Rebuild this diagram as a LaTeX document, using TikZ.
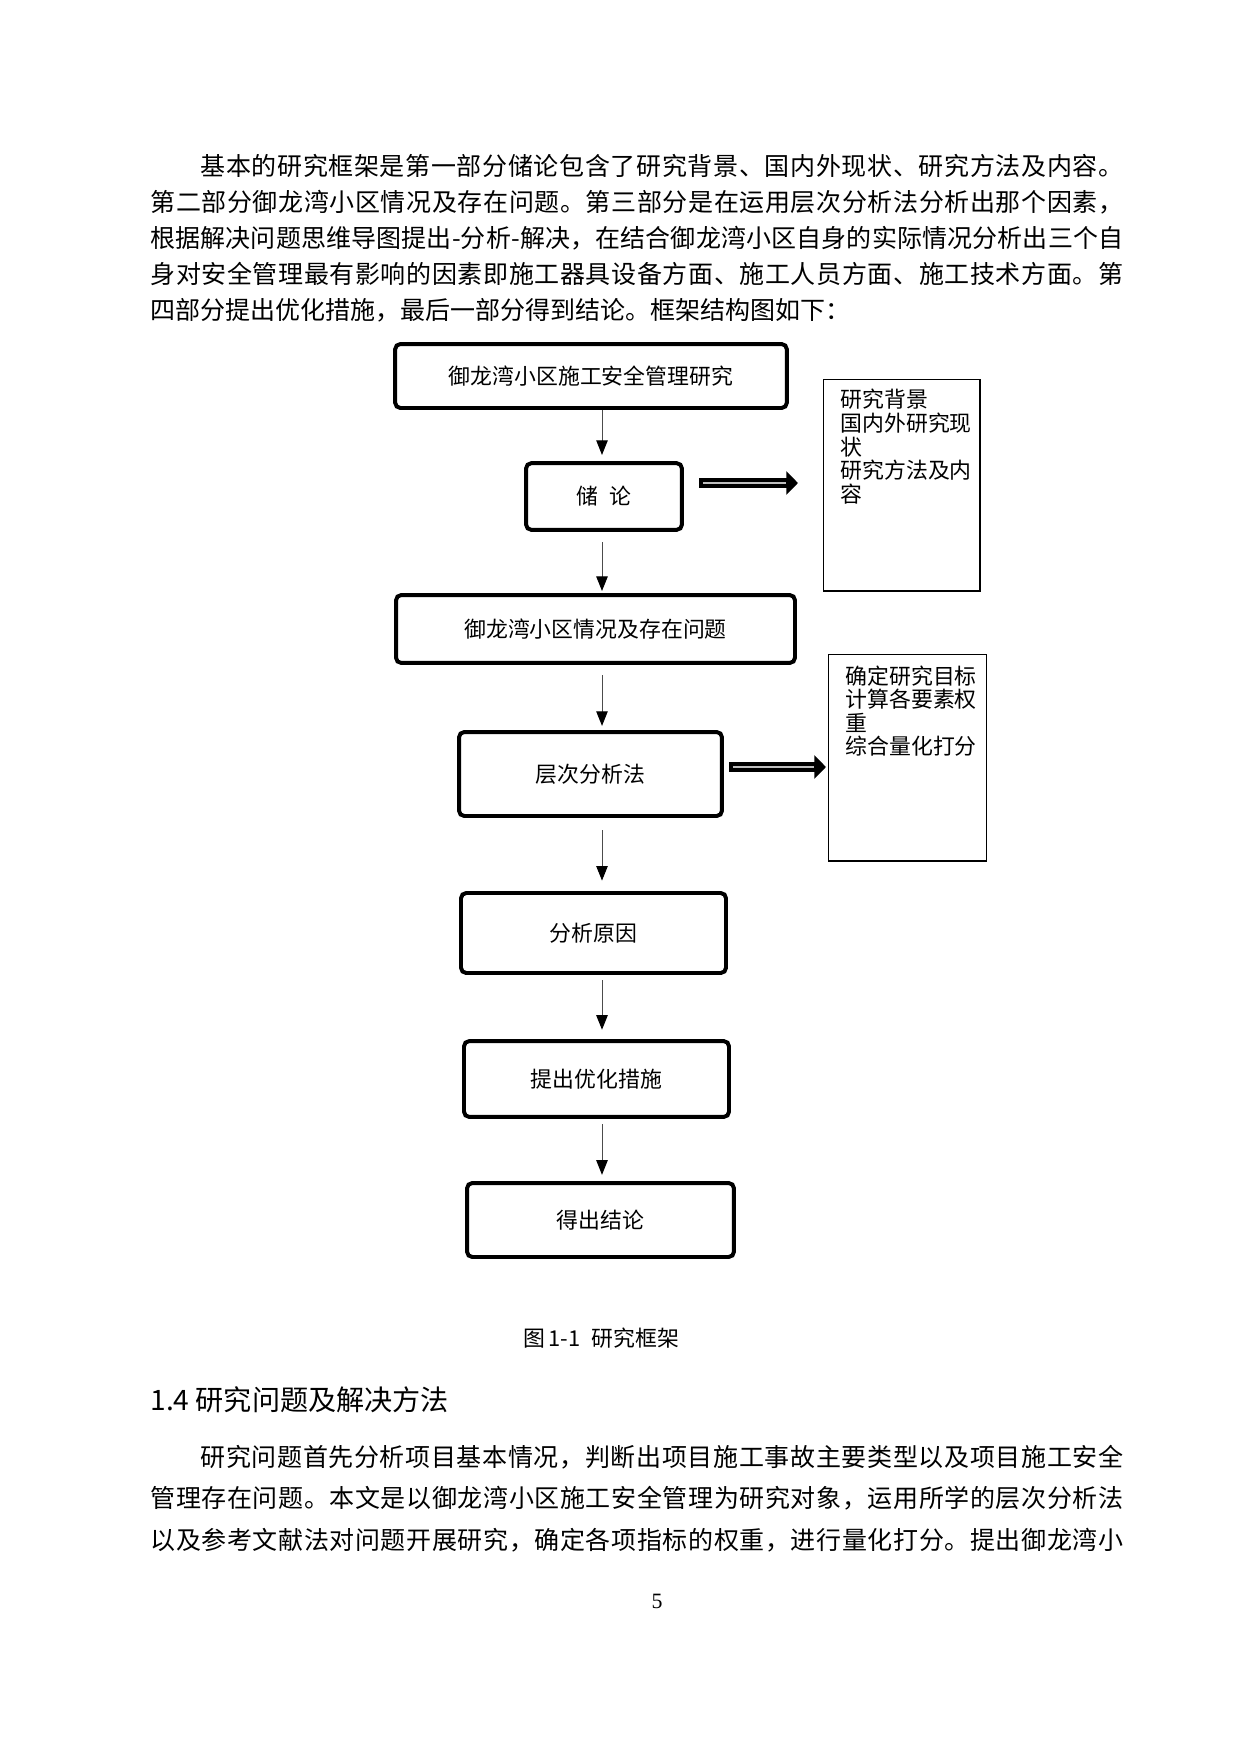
\documentclass[tikz,border=0pt]{standalone}
\usepackage{fontspec}
\usetikzlibrary{arrows.meta}

\newfontfamily\cjk{Noto Sans CJK SC}
\newfontfamily\pagefont{Liberation Serif}

% classes for stretchable space between CJK characters
\newcount\cjkcode
\cjkcode="4E00
\loop
  \XeTeXcharclass\cjkcode=1
  \advance\cjkcode by 1
\ifnum\cjkcode<"A000 \repeat
\XeTeXcharclass"3001=3
\XeTeXcharclass"3002=3
\XeTeXcharclass"FF0C=3
\XeTeXcharclass"FF1A=3

\XeTeXinterchartokenstate=1
\newcommand\cjkfill{\hskip0pt plus 1pt\relax}
\XeTeXinterchartoks 1 1 = {\cjkfill}
\XeTeXinterchartoks 1 3 = {\cjkfill}
\XeTeXinterchartoks 3 1 = {\cjkfill}
\XeTeXinterchartoks 3 3 = {\cjkfill}
\XeTeXinterchartoks 0 1 = {\cjkfill}
\XeTeXinterchartoks 1 0 = {\cjkfill}

\tikzset{
  stagebox/.style={draw, line width=1.9pt, rounded corners=2.5pt, inner sep=0pt,
    font=\cjk\fontsize{10.5pt}{12pt}\selectfont},
  notebox/.style={draw, line width=0.7pt, anchor=north west, inner sep=0pt},
  notetext/.style={anchor=north west, inner sep=0pt, align=left,
    font=\cjk\fontsize{10.5pt}{11.3pt}\selectfont},
  flowarrow/.style={black!70, line width=0.45pt, -{Triangle[length=7pt,width=5.5pt,color=black]}},
  outshaft/.style={line width=4.6pt, -{Triangle[length=5.6pt,width=11pt]}},
  inshaft/.style={gray!50, line width=0.55pt, shorten <=1.8pt, shorten >=6pt},
  bodyline/.style={anchor=west, inner sep=0pt, font=\cjk\fontsize{12pt}{14pt}\selectfont},
}

\begin{document}
\begin{tikzpicture}[x=0.48pt,y=-0.48pt]

            \fill[white] (0,0) rectangle (1240,1754);

            \node[bodyline] (pa1) at (200,166) {\makebox[443pt][s]{基本的研究框架是第一部分储论包含了研究背景、国内外现状、研究方法及内容。}};
            \node[bodyline] (pa2) at (150,202) {\makebox[467pt][s]{第二部分御龙湾小区情况及存在问题。第三部分是在运用层次分析法分析出那个因素，}};
            \node[bodyline] (pa3) at (150,238) {\makebox[467pt][s]{根据解决问题思维导图提出-分析-解决，在结合御龙湾小区自身的实际情况分析出三个自}};
            \node[bodyline] (pa4) at (150,274) {\makebox[467pt][s]{身对安全管理最有影响的因素即施工器具设备方面、施工人员方面、施工技术方面。第}};
            \node[bodyline] (pa5) at (150,310) {四部分提出优化措施，最后一部分得到结论。框架结构图如下：};

            \node[stagebox, minimum width=188pt, minimum height=30.7pt] (topic) at (591,376) {御龙湾小区施工安全管理研究};
            \node[stagebox, minimum width=74.8pt, minimum height=32pt] (intro) at (604,496.5) {储\enspace 论};
            \node[stagebox, minimum width=191.5pt, minimum height=32.6pt] (status) at (595.5,629) {御龙湾小区情况及存在问题};
            \node[stagebox, minimum width=126.2pt, minimum height=40.3pt] (ahp) at (590.5,774) {层次分析法};
            \node[stagebox, minimum width=127.2pt, minimum height=38.4pt] (cause) at (593.5,933) {分析原因};
            \node[stagebox, minimum width=127.2pt, minimum height=36.4pt] (measure) at (596.5,1079) {提出优化措施};
            \node[stagebox, minimum width=128.1pt, minimum height=35.5pt] (result) at (600.5,1220) {得出结论};

            \node[notebox, minimum width=74.9pt, minimum height=101.3pt] (noteA) at (823,379) {};
            \node[notetext] (noteAtext) at ([xshift=8.2pt,yshift=-4.8pt]noteA.north west) {研究背景\\国内外研究现\\状\\研究方法及内\\容};
            \node[notebox, minimum width=75.8pt, minimum height=98.9pt] (noteB) at (828,654) {};
            \node[notetext] (noteBtext) at ([xshift=8.2pt,yshift=-5.3pt]noteB.north west) {确定研究目标\\计算各要素权\\重\\综合量化打分};

            \coordinate (spine) at (602,0);
            \foreach \from/\to/\gapa/\gapb in {topic/intro/0/3, intro/status/5/1, status/ahp/5/2,
                    ahp/cause/6/5, cause/measure/2.5/4.5, measure/result/2.5/3} {
                    \draw[flowarrow, shorten <=\gapa pt, shorten >=\gapb pt] (\from.south -| spine) -- (\to.north -| spine);
                }

            \coordinate (introtail) at (699,483);
            \coordinate (introtip) at (798,483);
            \coordinate (ahptail) at (729,767);
            \coordinate (ahptip) at (826,767);
            \foreach \tail/\tip in {introtail/introtip, ahptail/ahptip} {
                    \draw[outshaft] (\tail) -- (\tip);
                    \draw[inshaft] (\tail) -- (\tip);
                }

            \node[font=\cjk\fontsize{10.5pt}{12pt}\selectfont] (caption) at (601,1338) {图\,1-1\enspace 研究框架};
            \node[anchor=west, inner sep=0pt, font=\cjk\fontsize{13.5pt}{16pt}\selectfont] (section) at (150,1400) {1.4 研究问题及解决方法};

            \node[bodyline] (pb1) at (200,1457) {\makebox[443pt][s]{研究问题首先分析项目基本情况，判断出项目施工事故主要类型以及项目施工安全}};
            \node[bodyline] (pb2) at (150,1498) {\makebox[467pt][s]{管理存在问题。本文是以御龙湾小区施工安全管理为研究对象，运用所学的层次分析法}};
            \node[bodyline] (pb3) at (150,1540) {\makebox[467pt][s]{以及参考文献法对问题开展研究，确定各项指标的权重，进行量化打分。提出御龙湾小}};

            \node[font=\pagefont\fontsize{10.5pt}{12pt}\selectfont] (pageno) at (657,1601) {5};
        \end{tikzpicture}
\end{document}
